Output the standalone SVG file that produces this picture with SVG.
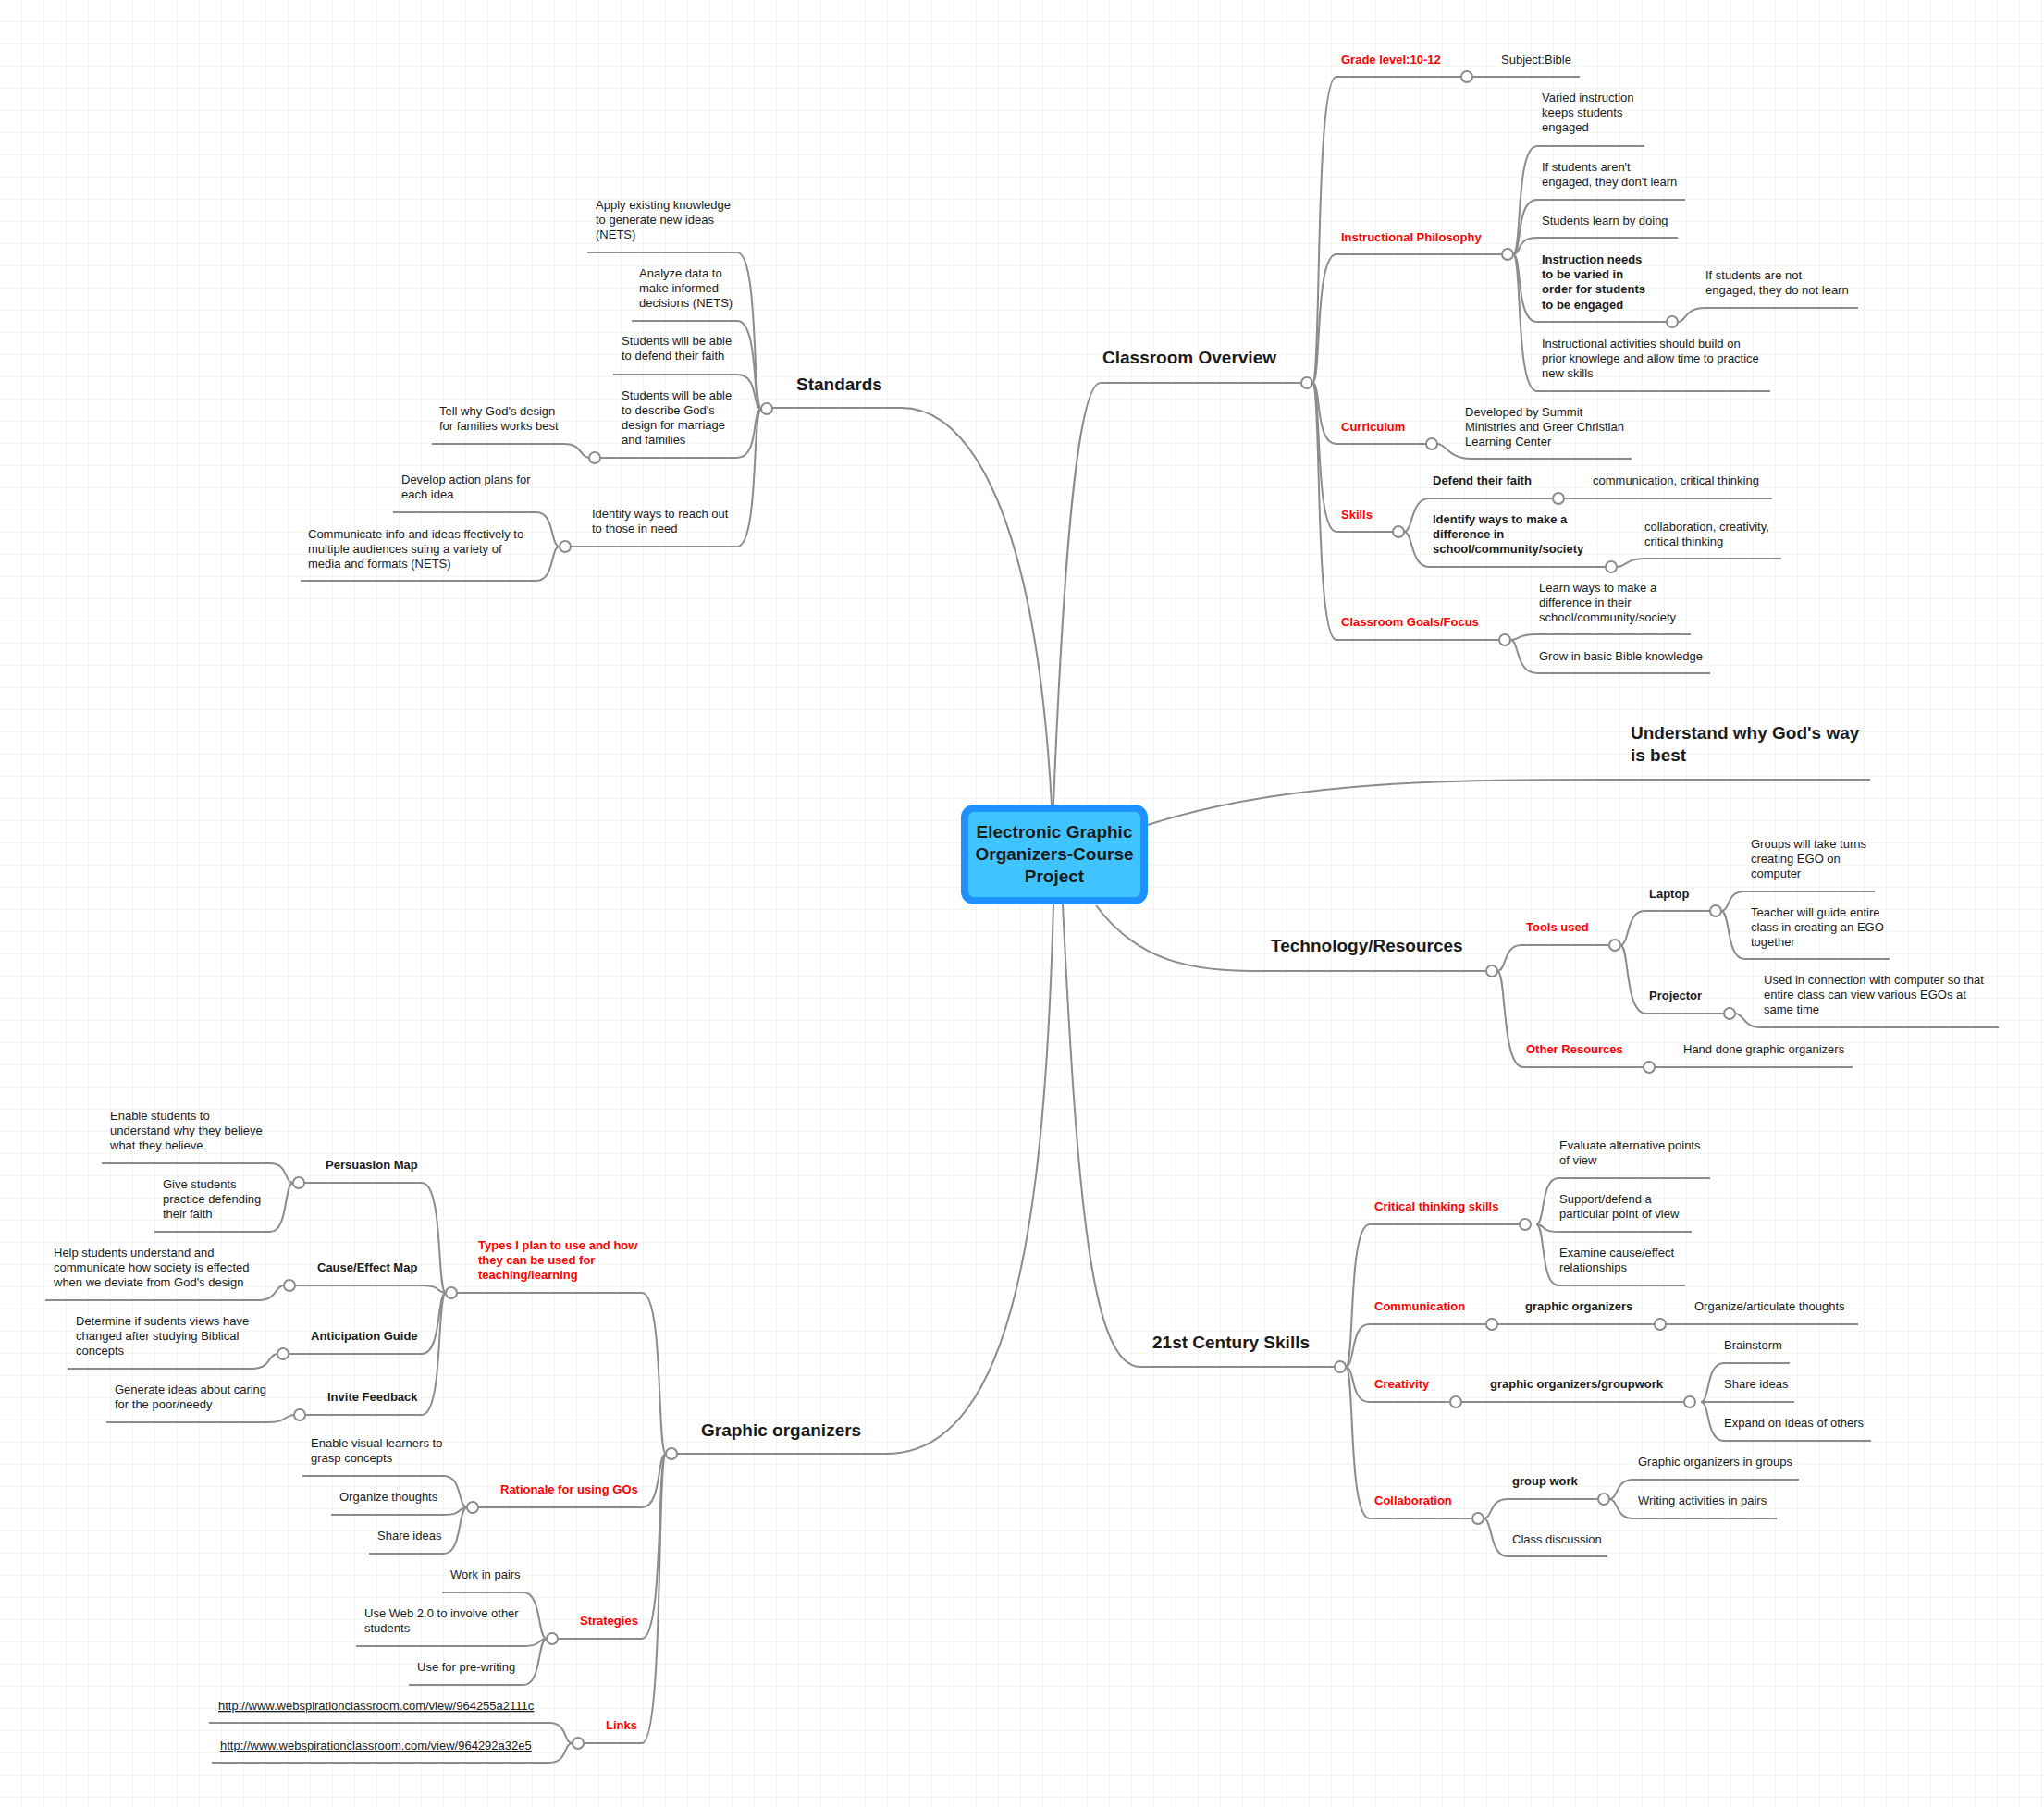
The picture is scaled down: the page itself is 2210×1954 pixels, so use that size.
<svg xmlns="http://www.w3.org/2000/svg" width="2210" height="1954" viewBox="0 0 2210 1954">
<defs>
<pattern id="grid" width="24" height="24" patternUnits="userSpaceOnUse">
<path d="M24 0V24H0" fill="none" stroke="#e6eedb" stroke-width="1"/>
</pattern>
<style>
text{font-family:"Liberation Sans",Arial,sans-serif;fill:#1a1a1a}
.t{font-size:13px}
.b{font-size:13px;font-weight:bold}
.r{font-size:13px;font-weight:bold;fill:#ff0000}
.h{font-size:19px;font-weight:bold}
.lk{font-size:13px;text-decoration:underline}
.ln{fill:none;stroke:#8c8c8c;stroke-width:2}
.c{fill:#fff;stroke:#8c8c8c;stroke-width:2}
.ct{font-size:19px;font-weight:bold;text-anchor:middle}
</style>
</defs>
<rect width="2210" height="1954" fill="#fff"/>
<rect width="2210" height="1954" fill="url(#grid)"/>

<g id="connectors">
<!-- main branches -->
<path class="ln" d="M1139 870 C1150 600,1165 414,1190 414 H1407"/>
<path class="ln" d="M1137 870 C1120 560,1050 441,975 441 H835"/>
<path class="ln" d="M1241 892 C1400 840,1600 843,1780 843 H2022"/>
<path class="ln" d="M1185 979 C1230 1040,1290 1050,1355 1050 H1607"/>
<path class="ln" d="M1149 978 C1165 1300,1180 1478,1233 1478 H1443"/>
<path class="ln" d="M1139 978 C1130 1300,1100 1572,958 1572 H732"/>
<!-- classroom overview -->
<path class="ln" d="M1419 414 C1429 414,1421 83,1445 83 H1580"/>
<path class="ln" d="M1592 83 H1708"/>
<path class="ln" d="M1419 414 C1429 414,1421 275,1445 275 H1624"/>
<path class="ln" d="M1636 275 C1646 275,1638 158,1662 158 H1778"/>
<path class="ln" d="M1636 275 C1646 275,1638 216,1662 216 H1822"/>
<path class="ln" d="M1636 275 C1646 275,1638 257,1662 257 H1814"/>
<path class="ln" d="M1636 275 C1646 275,1638 348,1662 348 H1802"/>
<path class="ln" d="M1814 348 C1824 348,1820 333,1844 333 H2009"/>
<path class="ln" d="M1636 275 C1646 275,1638 423,1662 423 H1914"/>
<path class="ln" d="M1419 414 C1429 414,1421 480,1445 480 H1542"/>
<path class="ln" d="M1554 480 C1564 480,1566 496,1590 496 H1764"/>
<path class="ln" d="M1419 414 C1429 414,1421 575,1445 575 H1506"/>
<path class="ln" d="M1518 575 C1528 575,1525 539,1545 539 H1679"/>
<path class="ln" d="M1691 539 H1916"/>
<path class="ln" d="M1518 575 C1528 575,1525 613,1545 613 H1736"/>
<path class="ln" d="M1748 613 C1758 613,1758 604,1778 604 H1926"/>
<path class="ln" d="M1419 414 C1429 414,1421 692,1445 692 H1621"/>
<path class="ln" d="M1633 692 C1643 692,1640 686,1660 686 H1828"/>
<path class="ln" d="M1633 692 C1643 692,1638 728,1662 728 H1849"/>
<!-- technology -->
<path class="ln" d="M1619 1050 C1629 1050,1625 1022,1645 1022 H1740"/>
<path class="ln" d="M1752 1022 C1762 1022,1758 985,1778 985 H1849"/>
<path class="ln" d="M1861 985 C1871 985,1866 964,1886 964 H2027"/>
<path class="ln" d="M1861 985 C1871 985,1866 1037,1886 1037 H2043"/>
<path class="ln" d="M1752 1022 C1762 1022,1756 1096,1780 1096 H1864"/>
<path class="ln" d="M1876 1096 C1886 1096,1884 1111,1904 1111 H2161"/>
<path class="ln" d="M1619 1050 C1629 1050,1623 1154,1647 1154 H1777"/>
<path class="ln" d="M1789 1154 H2003"/>
<!-- 21st century -->
<path class="ln" d="M1455 1478 C1465 1478,1457 1324,1481 1324 H1643"/>
<path class="ln" d="M1661 1324 C1671 1324,1665 1274,1685 1274 H1849"/>
<path class="ln" d="M1661 1324 C1671 1324,1665 1332,1685 1332 H1829"/>
<path class="ln" d="M1661 1324 C1671 1324,1665 1390,1685 1390 H1822"/>
<path class="ln" d="M1455 1478 C1465 1478,1460 1432,1480 1432 H1607"/>
<path class="ln" d="M1619 1432 H1789"/>
<path class="ln" d="M1801 1432 H2009"/>
<path class="ln" d="M1455 1478 C1465 1478,1460 1516,1480 1516 H1568"/>
<path class="ln" d="M1580 1516 H1821"/>
<path class="ln" d="M1839 1516 C1849 1516,1844 1474,1864 1474 H1935"/>
<path class="ln" d="M1839 1516 H1940"/>
<path class="ln" d="M1839 1516 C1849 1516,1844 1558,1864 1558 H2023"/>
<path class="ln" d="M1455 1478 C1465 1478,1457 1642,1481 1642 H1592"/>
<path class="ln" d="M1604 1642 C1614 1642,1610 1621,1630 1621 H1728"/>
<path class="ln" d="M1604 1642 C1614 1642,1610 1683,1630 1683 H1738"/>
<path class="ln" d="M1740 1621 C1750 1621,1746 1600,1766 1600 H1945"/>
<path class="ln" d="M1740 1621 C1750 1621,1746 1642,1766 1642 H1921"/>
<!-- standards -->
<path class="ln" d="M823 442 C813 442,821 273,797 273 H635"/>
<path class="ln" d="M823 442 C813 442,821 347,797 347 H683"/>
<path class="ln" d="M823 442 C813 442,821 405,797 405 H663"/>
<path class="ln" d="M823 442 C813 442,821 495,797 495 H649"/>
<path class="ln" d="M637 495 C627 495,630 480,610 480 H467"/>
<path class="ln" d="M823 442 C813 442,821 591,797 591 H617"/>
<path class="ln" d="M605 591 C595 591,600 554,580 554 H425"/>
<path class="ln" d="M605 591 C595 591,600 628,580 628 H325"/>
<!-- graphic organizers -->
<path class="ln" d="M720 1572 C710 1572,718 1398,694 1398 H494"/>
<path class="ln" d="M482 1398 C472 1398,480 1279,456 1279 H329"/>
<path class="ln" d="M317 1279 C307 1279,312 1258,292 1258 H110"/>
<path class="ln" d="M317 1279 C307 1279,312 1332,292 1332 H167"/>
<path class="ln" d="M482 1398 C472 1398,477 1390,457 1390 H319"/>
<path class="ln" d="M307 1390 C297 1390,300 1406,280 1406 H49"/>
<path class="ln" d="M482 1398 C472 1398,478 1464,456 1464 H312"/>
<path class="ln" d="M300 1464 C290 1464,293 1480,273 1480 H73"/>
<path class="ln" d="M482 1398 C472 1398,480 1530,456 1530 H330"/>
<path class="ln" d="M318 1530 C308 1530,310 1538,290 1538 H115"/>
<path class="ln" d="M720 1572 C710 1572,716 1630,694 1630 H517"/>
<path class="ln" d="M505 1630 C495 1630,500 1596,480 1596 H327"/>
<path class="ln" d="M505 1630 C495 1630,500 1638,480 1638 H358"/>
<path class="ln" d="M505 1630 C495 1630,500 1680,480 1680 H399"/>
<path class="ln" d="M720 1572 C710 1572,718 1772,694 1772 H603"/>
<path class="ln" d="M591 1772 C581 1772,586 1722,566 1722 H478"/>
<path class="ln" d="M591 1772 C581 1772,586 1780,566 1780 H385"/>
<path class="ln" d="M591 1772 C581 1772,586 1822,566 1822 H442"/>
<path class="ln" d="M720 1572 C710 1572,718 1885,694 1885 H631"/>
<path class="ln" d="M619 1885 C609 1885,614 1863,594 1863 H226"/>
<path class="ln" d="M619 1885 C609 1885,614 1906,594 1906 H229"/>
<!-- circles -->
<circle class="c" cx="1413" cy="414" r="6"/><circle class="c" cx="1586" cy="83" r="6"/>
<circle class="c" cx="1630" cy="275" r="6"/><circle class="c" cx="1808" cy="348" r="6"/>
<circle class="c" cx="1548" cy="480" r="6"/><circle class="c" cx="1512" cy="575" r="6"/>
<circle class="c" cx="1685" cy="539" r="6"/><circle class="c" cx="1742" cy="613" r="6"/>
<circle class="c" cx="1627" cy="692" r="6"/>
<circle class="c" cx="1613" cy="1050" r="6"/><circle class="c" cx="1746" cy="1022" r="6"/>
<circle class="c" cx="1855" cy="985" r="6"/><circle class="c" cx="1870" cy="1096" r="6"/>
<circle class="c" cx="1783" cy="1154" r="6"/>
<circle class="c" cx="1449" cy="1478" r="6"/><circle class="c" cx="1649" cy="1324" r="6"/>
<circle class="c" cx="1613" cy="1432" r="6"/><circle class="c" cx="1795" cy="1432" r="6"/>
<circle class="c" cx="1574" cy="1516" r="6"/><circle class="c" cx="1827" cy="1516" r="6"/>
<circle class="c" cx="1598" cy="1642" r="6"/><circle class="c" cx="1734" cy="1621" r="6"/>
<circle class="c" cx="829" cy="442" r="6"/><circle class="c" cx="643" cy="495" r="6"/>
<circle class="c" cx="611" cy="591" r="6"/>
<circle class="c" cx="726" cy="1572" r="6"/><circle class="c" cx="488" cy="1398" r="6"/>
<circle class="c" cx="323" cy="1279" r="6"/><circle class="c" cx="313" cy="1390" r="6"/>
<circle class="c" cx="306" cy="1464" r="6"/><circle class="c" cx="324" cy="1530" r="6"/>
<circle class="c" cx="511" cy="1630" r="6"/><circle class="c" cx="597" cy="1772" r="6"/>
<circle class="c" cx="625" cy="1885" r="6"/>
</g>

<g id="center">
<rect x="1043" y="874" width="194" height="100" rx="10" fill="#40c4ff" stroke="#1e90ff" stroke-width="8"/>
<text class="ct" x="1140" y="906">Electronic Graphic</text>
<text class="ct" x="1140" y="930">Organizers-Course</text>
<text class="ct" x="1140" y="954">Project</text>
</g>

<g id="classroom-overview">
<text class="h" x="1192" y="393">Classroom Overview</text>
<text class="r" x="1450" y="69">Grade level:10-12</text>
<text class="t" x="1623" y="69">Subject:Bible</text>
<text class="r" x="1450" y="261">Instructional Philosophy</text>
<text class="t" x="1667" y="110">Varied instruction</text>
<text class="t" x="1667" y="126">keeps students</text>
<text class="t" x="1667" y="142">engaged</text>
<text class="t" x="1667" y="185">If students aren't</text>
<text class="t" x="1667" y="201">engaged, they don't learn</text>
<text class="t" x="1667" y="243">Students learn by doing</text>
<text class="b" x="1667" y="285">Instruction needs</text>
<text class="b" x="1667" y="301">to be varied in</text>
<text class="b" x="1667" y="317">order for students</text>
<text class="b" x="1667" y="334">to be engaged</text>
<text class="t" x="1844" y="302">If students are not</text>
<text class="t" x="1844" y="318">engaged, they do not learn</text>
<text class="t" x="1667" y="376">Instructional activities should build on</text>
<text class="t" x="1667" y="392">prior knowlege and allow time to practice</text>
<text class="t" x="1667" y="408">new skills</text>
<text class="r" x="1450" y="466">Curriculum</text>
<text class="t" x="1584" y="450">Developed by Summit</text>
<text class="t" x="1584" y="466">Ministries and Greer Christian</text>
<text class="t" x="1584" y="482">Learning Center</text>
<text class="r" x="1450" y="561">Skills</text>
<text class="b" x="1549" y="524">Defend their faith</text>
<text class="t" x="1722" y="524">communication, critical thinking</text>
<text class="b" x="1549" y="566">Identify ways to make a</text>
<text class="b" x="1549" y="582">difference in</text>
<text class="b" x="1549" y="598">school/community/society</text>
<text class="t" x="1778" y="574">collaboration, creativity,</text>
<text class="t" x="1778" y="590">critical thinking</text>
<text class="r" x="1450" y="677">Classroom Goals/Focus</text>
<text class="t" x="1664" y="640">Learn ways to make a</text>
<text class="t" x="1664" y="656">difference in their</text>
<text class="t" x="1664" y="672">school/community/society</text>
<text class="t" x="1664" y="714">Grow in basic Bible knowledge</text>
</g>

<g id="standards">
<text class="h" x="861" y="422">Standards</text>
<text class="t" x="644" y="226">Apply existing knowledge</text>
<text class="t" x="644" y="242">to generate new ideas</text>
<text class="t" x="644" y="258">(NETS)</text>
<text class="t" x="691" y="300">Analyze data to</text>
<text class="t" x="691" y="316">make informed</text>
<text class="t" x="691" y="332">decisions (NETS)</text>
<text class="t" x="672" y="373">Students will be able</text>
<text class="t" x="672" y="389">to defend their faith</text>
<text class="t" x="672" y="432">Students will be able</text>
<text class="t" x="672" y="448">to describe God's</text>
<text class="t" x="672" y="464">design for marriage</text>
<text class="t" x="672" y="480">and families</text>
<text class="t" x="475" y="449">Tell why God's design</text>
<text class="t" x="475" y="465">for families works best</text>
<text class="t" x="640" y="560">Identify ways to reach out</text>
<text class="t" x="640" y="576">to those in need</text>
<text class="t" x="434" y="523">Develop action plans for</text>
<text class="t" x="434" y="539">each idea</text>
<text class="t" x="333" y="582">Communicate info and ideas ffectively to</text>
<text class="t" x="333" y="598">multiple audiences suing a variety of</text>
<text class="t" x="333" y="614">media and formats (NETS)</text>
</g>

<g id="understand">
<text class="h" x="1763" y="799">Understand why God's way</text>
<text class="h" x="1763" y="823">is best</text>
</g>

<g id="technology">
<text class="h" x="1374" y="1029">Technology/Resources</text>
<text class="r" x="1650" y="1007">Tools used</text>
<text class="b" x="1783" y="971">Laptop</text>
<text class="t" x="1893" y="917">Groups will take turns</text>
<text class="t" x="1893" y="933">creating EGO on</text>
<text class="t" x="1893" y="949">computer</text>
<text class="t" x="1893" y="991">Teacher will guide entire</text>
<text class="t" x="1893" y="1007">class in creating an EGO</text>
<text class="t" x="1893" y="1023">together</text>
<text class="b" x="1783" y="1081">Projector</text>
<text class="t" x="1907" y="1064">Used in connection with computer so that</text>
<text class="t" x="1907" y="1080">entire class can view various EGOs at</text>
<text class="t" x="1907" y="1096">same time</text>
<text class="r" x="1650" y="1139">Other Resources</text>
<text class="t" x="1820" y="1139">Hand done graphic organizers</text>
</g>

<g id="century-skills">
<text class="h" x="1246" y="1458">21st Century Skills</text>
<text class="r" x="1486" y="1309">Critical thinking skills</text>
<text class="t" x="1686" y="1243">Evaluate alternative points</text>
<text class="t" x="1686" y="1259">of view</text>
<text class="t" x="1686" y="1301">Support/defend a</text>
<text class="t" x="1686" y="1317">particular point of view</text>
<text class="t" x="1686" y="1359">Examine cause/effect</text>
<text class="t" x="1686" y="1375">relationships</text>
<text class="r" x="1486" y="1417">Communication</text>
<text class="b" x="1649" y="1417">graphic organizers</text>
<text class="t" x="1832" y="1417">Organize/articulate thoughts</text>
<text class="r" x="1486" y="1501">Creativity</text>
<text class="b" x="1611" y="1501">graphic organizers/groupwork</text>
<text class="t" x="1864" y="1459">Brainstorm</text>
<text class="t" x="1864" y="1501">Share ideas</text>
<text class="t" x="1864" y="1543">Expand on ideas of others</text>
<text class="r" x="1486" y="1627">Collaboration</text>
<text class="b" x="1635" y="1606">group work</text>
<text class="t" x="1771" y="1585">Graphic organizers in groups</text>
<text class="t" x="1771" y="1627">Writing activities in pairs</text>
<text class="t" x="1635" y="1669">Class discussion</text>
</g>

<g id="graphic-organizers">
<text class="h" x="758" y="1553">Graphic organizers</text>
<text class="r" x="517" y="1351">Types I plan to use and how</text>
<text class="r" x="517" y="1367">they can be used for</text>
<text class="r" x="517" y="1383">teaching/learning</text>
<text class="b" x="352" y="1264">Persuasion Map</text>
<text class="t" x="119" y="1211">Enable students to</text>
<text class="t" x="119" y="1227">understand why they believe</text>
<text class="t" x="119" y="1243">what they believe</text>
<text class="t" x="176" y="1285">Give students</text>
<text class="t" x="176" y="1301">practice defending</text>
<text class="t" x="176" y="1317">their faith</text>
<text class="b" x="343" y="1375">Cause/Effect Map</text>
<text class="t" x="58" y="1359">Help students understand and</text>
<text class="t" x="58" y="1375">communicate how society is effected</text>
<text class="t" x="58" y="1391">when we deviate from God's design</text>
<text class="b" x="336" y="1449">Anticipation Guide</text>
<text class="t" x="82" y="1433">Determine if sudents views have</text>
<text class="t" x="82" y="1449">changed after studying Biblical</text>
<text class="t" x="82" y="1465">concepts</text>
<text class="b" x="354" y="1515">Invite Feedback</text>
<text class="t" x="124" y="1507">Generate ideas about caring</text>
<text class="t" x="124" y="1523">for the poor/needy</text>
<text class="r" x="541" y="1615">Rationale for using GOs</text>
<text class="t" x="336" y="1565">Enable visual learners to</text>
<text class="t" x="336" y="1581">grasp concepts</text>
<text class="t" x="367" y="1623">Organize thoughts</text>
<text class="t" x="408" y="1665">Share ideas</text>
<text class="r" x="627" y="1757">Strategies</text>
<text class="t" x="487" y="1707">Work in pairs</text>
<text class="t" x="394" y="1749">Use Web 2.0 to involve other</text>
<text class="t" x="394" y="1765">students</text>
<text class="t" x="451" y="1807">Use for pre-writing</text>
<text class="r" x="655" y="1870">Links</text>
<text class="lk" x="236" y="1849">http://www.webspirationclassroom.com/view/964255a2111c</text>
<text class="lk" x="238" y="1892">http://www.webspirationclassroom.com/view/964292a32e5</text>
</g>
</svg>
